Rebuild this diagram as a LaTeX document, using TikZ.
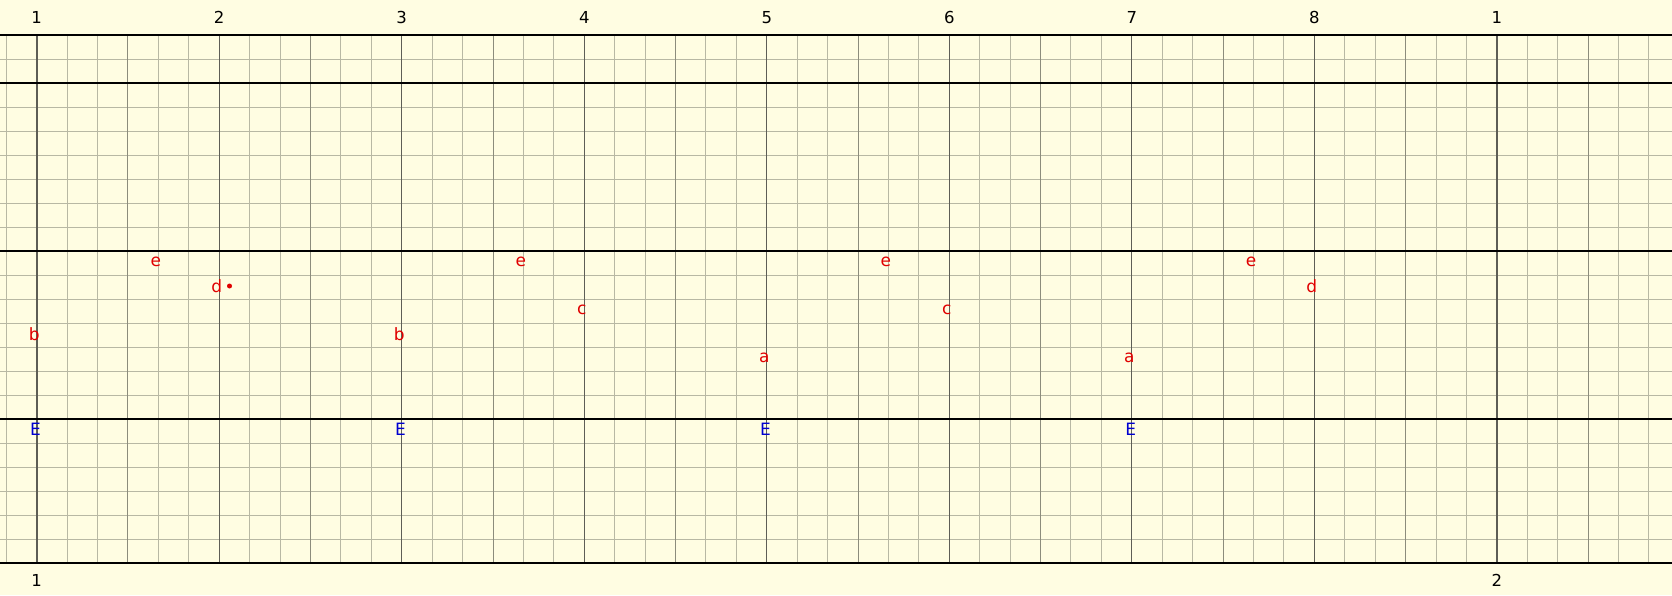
\documentclass[tikz,border=0pt]{standalone}
\usepackage{fontspec}
\setmainfont{DejaVu Sans}
\usepackage{xcolor}
\usetikzlibrary{positioning}

\definecolor{paper}{HTML}{FFFDE2}
\definecolor{gridlight}{HTML}{B8B8A4}
\definecolor{gridmid}{HTML}{8C8C7C}
\definecolor{griddark}{HTML}{5E5E56}
\definecolor{notered}{HTML}{E00000}
\definecolor{rootblue}{HTML}{0000D0}

\tikzset{
  minor/.style={draw=gridlight,line width=1pt},
  half/.style={draw=gridmid,line width=1pt},
  beat/.style={draw=griddark,line width=1pt},
  bar/.style={draw=griddark,line width=2.2pt},
  staff/.style={draw=black,line width=1.2pt},
  note/.style={text=notered,inner sep=0pt,font=\fontsize{17}{17}\selectfont},
  root/.style={note,text=rootblue},
  num/.style={inner sep=0pt,font=\fontsize{16.5}{16.5}\selectfont},
}

\begin{document}
\begin{tikzpicture}[x=1pt,y=-1pt]
  \fill[paper] (0,0) rectangle (1672,595);
  \useasboundingbox (0,0) rectangle (1672,595);

  % rows
  \foreach \r in {0,...,22}
    \draw[minor] (0,{35+24*\r}) -- (1672,{35+24*\r});
  % columns
  \foreach \k in {-1,...,53}
    \draw[minor] ({36.7+30.42*\k},35) -- ({36.7+30.42*\k},563);
  \foreach \k in {3,9,...,51}
    \draw[half] ({36.7+30.42*\k},35) -- ({36.7+30.42*\k},563);
  \foreach \k in {6,12,...,42}
    \draw[beat] ({36.7+30.42*\k},35) -- ({36.7+30.42*\k},563);
  \foreach \k in {0,48}
    \draw[bar] ({36.7+30.42*\k},35) -- ({36.7+30.42*\k},563);
  \foreach \r in {0,2,9,16,22}
    \draw[staff] (0,{35+24*\r}) -- (1672,{35+24*\r});

  % beat numbers
  \foreach \k/\t [count=\i] in {0/1,6/2,12/3,18/4,24/5,30/6,36/7,42/8,48/1}
    \node[num] (top\i) at ({36.7+30.42*\k},17.5) {\t};
  \node[num] (bot1) at (36.7,580) {1};
  \node[num] (bot2) at ({36.7+30.42*48},580) {2};

  % notes
  \foreach \k/\r/\t [count=\i] in {0/12/b,4/9/e,6/10/d,12/12/b,16/9/e,18/11/c,
      24/13/a,28/9/e,30/11/c,36/13/a,40/9/e,42/10/d}
    \node[note] (n\i) at ({34.2+30.42*\k},{34+24*(\r+0.5)}) {\t};
  \node[circle,fill=notered,inner sep=0pt,minimum size=5pt,right=4.5pt of n3] (dot) {};

  % roots
  \foreach \k [count=\i] in {0,12,24,36}
    \node[root] (E\i) at ({35.5+30.42*\k},429) {E};
\end{tikzpicture}
\end{document}
